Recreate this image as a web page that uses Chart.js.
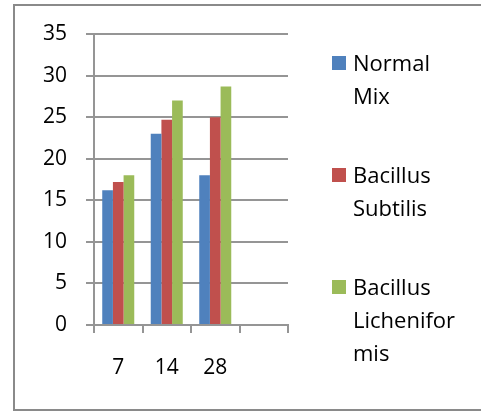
<!DOCTYPE html>
<html>
<head>
<meta charset="utf-8">
<script src="https://cdn.jsdelivr.net/npm/chart.js@4/dist/chart.umd.min.js"></script>
<style>
  html, body { margin: 0; padding: 0; background: #ffffff; }
  #wrap { position: relative; width: 481px; height: 412px; }
</style>
</head>
<body>
<div id="wrap"><canvas id="chart" width="481" height="412"></canvas></div>
<script>
// Sampling days and measured values for each mix
const categories = ['7', '14', '28', ''];
const normalMix = [16.2, 23.0, 18.0, null];
const bacillusSubtilis = [17.2, 24.7, 25.0, null];
const bacillusLicheniformis = [18.0, 27.0, 28.7, null];
const seriesNames = ['Normal Mix', 'Bacillus Subtilis', 'Bacillus Licheniformis'];
const yTicks = [0, 5, 10, 15, 20, 25, 30, 35];

const FONT = "'Open Sans', 'Liberation Sans', sans-serif";
const GRID = '#959595';

// Wrap a label into lines no wider than maxWidth, breaking long words by character
function wrapLabel(ctx, text, maxWidth) {
  const lines = [];
  let line = '';
  for (const word of text.split(' ')) {
    const candidate = line ? line + ' ' + word : word;
    if (ctx.measureText(candidate).width <= maxWidth) { line = candidate; continue; }
    if (line) lines.push(line);
    line = '';
    let piece = '';
    for (const ch of word) {
      if (ctx.measureText(piece + ch).width > maxWidth && piece) { lines.push(piece); piece = ch; }
      else piece += ch;
    }
    line = piece;
  }
  if (line) lines.push(line);
  return lines;
}

// Frame around the whole chart plus a side legend with wrapped entries
const frameAndLegend = {
  id: 'frameAndLegend',
  afterDraw(chart, args, opts) {
    const ctx = chart.ctx;
    ctx.save();
    ctx.strokeStyle = '#8a8a8a';
    ctx.lineWidth = 2;
    ctx.strokeRect(14, 5, 520, 405);

    ctx.font = opts.fontSize + 'px ' + FONT;
    ctx.textBaseline = 'alphabetic';
    ctx.textAlign = 'left';
    chart.data.datasets.forEach((ds, i) => {
      const baseline = opts.top + i * opts.entryGap;
      ctx.fillStyle = ds.backgroundColor;
      ctx.fillRect(opts.x, baseline - 14.5, 14, 14);
      ctx.fillStyle = '#000000';
      wrapLabel(ctx, ds.label, opts.maxWidth).forEach((ln, j) => {
        ctx.fillText(ln, opts.x + 21, baseline + j * opts.lineHeight);
      });
    });
    ctx.restore();
  }
};

new Chart(document.getElementById('chart'), {
  type: 'bar',
  data: {
    labels: categories,
    datasets: [
      { label: seriesNames[0], data: normalMix, backgroundColor: '#4F81BD' },
      { label: seriesNames[1], data: bacillusSubtilis, backgroundColor: '#C0504D' },
      { label: seriesNames[2], data: bacillusLicheniformis, backgroundColor: '#9BBB59' }
    ]
  },
  options: {
    responsive: false,
    animation: false,
    events: [],
    datasets: { bar: { barPercentage: 1.0, categoryPercentage: 0.66, borderWidth: 0 } },
    layout: { padding: { left: 0, right: 193, top: 34, bottom: 0 } },
    plugins: {
      legend: { display: false },
      tooltip: { enabled: false },
      frameAndLegend: { x: 332, top: 70.5, entryGap: 112, lineHeight: 33, fontSize: 22, maxWidth: 112 }
    },
    scales: {
      x: {
        grid: { display: true, drawOnChartArea: false, drawTicks: true, tickLength: 8, color: GRID, lineWidth: 2, offset: true },
        border: { display: true, color: GRID, width: 2 },
        ticks: { color: '#000000', font: { family: FONT, size: 21 }, padding: 22, maxRotation: 0 },
        afterFit(scale) { scale.height = 87; }
      },
      y: {
        min: 0, max: 35,
        afterBuildTicks(scale) { scale.ticks = yTicks.map(v => ({ value: v })); },
        grid: { color: GRID, lineWidth: 2, tickLength: 8 },
        border: { display: true, color: GRID, width: 2 },
        ticks: { color: '#000000', font: { family: FONT, size: 21 }, padding: 19 },
        afterFit(scale) { scale.width = 94; }
      }
    }
  },
  plugins: [frameAndLegend]
});
</script>
</body>
</html>
